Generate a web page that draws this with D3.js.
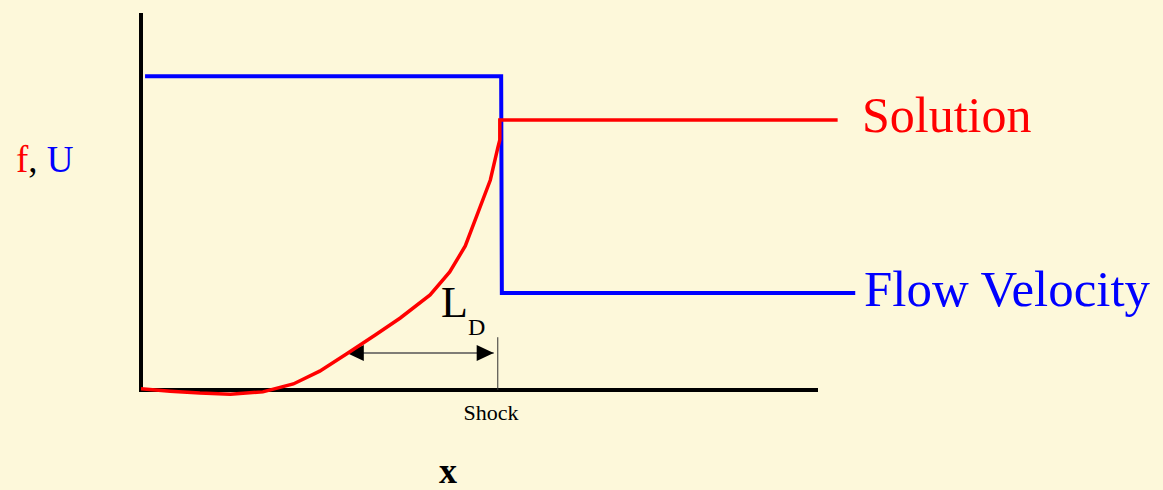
<!DOCTYPE html>
<html><head><meta charset="utf-8">
<script src="https://cdn.jsdelivr.net/npm/d3@7"></script>
<style>
html,body{margin:0;padding:0;background:#fdf8da;}
svg{display:block;font-family:"Liberation Serif","Times New Roman",serif;}
</style></head>
<body>
<svg id="c" width="1163" height="490"></svg>
<script>
// Data (arbitrary units: x position, f/U value)
const solutionX = [0, 4.3, 8.7, 13.2, 18.0, 22.5, 26.4, 30.4, 34.6, 38.3, 42.7, 45.6, 47.9, 49.8, 51.6, 52.7, 53.0, 53.0, 102.9];
const solutionY = [0.3, -0.3, -0.8, -1.1, -0.5, 1.6, 5.0, 9.6, 14.6, 19.1, 25.2, 31.3, 38.2, 47.2, 55.7, 64.2, 66.3, 71.6, 71.6];
const velocityX = [0.6, 53.2, 53.3, 105.5];
const velocityY = [83.2, 83.2, 25.7, 25.7];
const shockX = 52.7;
const diffusionStartX = 30.4;
const diffusionEndX = 52.1;
const arrowY = 9.8;
const shockTopY = 14;
const seriesLabels = ["Solution", "Flow Velocity"];

const svg = d3.select("#c");
const x = d3.scaleLinear().domain([0, 100]).range([141, 818]);
const y = d3.scaleLinear().domain([0, 100]).range([390, 13]);

// axes
svg.append("line").attr("x1", x(0)).attr("x2", x(0)).attr("y1", y(100)).attr("y2", y(0) + 2)
  .attr("stroke", "#000").attr("stroke-width", 4);
svg.append("line").attr("x1", x(0) - 2).attr("x2", x(100)).attr("y1", y(0)).attr("y2", y(0))
  .attr("stroke", "#000").attr("stroke-width", 4);

// shock line
svg.append("line").attr("x1", x(shockX)).attr("x2", x(shockX)).attr("y1", y(shockTopY)).attr("y2", y(0))
  .attr("stroke", "#333").attr("stroke-width", 1);

// diffusion arrow
const ay = y(arrowY);
svg.append("line").attr("x1", x(diffusionStartX)).attr("x2", x(diffusionEndX)).attr("y1", ay).attr("y2", ay)
  .attr("stroke", "#555").attr("stroke-width", 1.5);
const ah = 17, aw = 8;
svg.append("path").attr("d", `M${x(diffusionStartX)},${ay}L${x(diffusionStartX)+ah},${ay-aw}L${x(diffusionStartX)+ah},${ay+aw}Z`).attr("fill", "#000");
svg.append("path").attr("d", `M${x(diffusionEndX)},${ay}L${x(diffusionEndX)-ah},${ay-aw}L${x(diffusionEndX)-ah},${ay+aw}Z`).attr("fill", "#000");

const line = d3.line().x(d => x(d[0])).y(d => y(d[1]));
svg.append("path").datum(velocityX.map((v, i) => [v, velocityY[i]]))
  .attr("d", line).attr("fill", "none").attr("stroke", "#0000ff").attr("stroke-width", 4);
svg.append("path").datum(solutionX.map((v, i) => [v, solutionY[i]]))
  .attr("d", line).attr("fill", "none").attr("stroke", "#ff0000").attr("stroke-width", 3.5);

// labels
svg.append("text").attr("x", 862).attr("y", 132).attr("font-size", 50).attr("fill", "#ff0000").text(seriesLabels[0]);
svg.append("text").attr("x", 864).attr("y", 306).attr("font-size", 50).attr("fill", "#0000ff")
  .attr("textLength", 286).attr("lengthAdjust", "spacingAndGlyphs").text(seriesLabels[1]);

const yl = svg.append("text").attr("x", 16).attr("y", 172).attr("font-size", 37);
yl.append("tspan").attr("fill", "#ff0000").text("f");
yl.append("tspan").attr("fill", "#000").text(", ");
yl.append("tspan").attr("fill", "#0000ff").text("U");

const ld = svg.append("text").attr("x", 441).attr("y", 317).attr("font-size", 44).attr("fill", "#000");
ld.append("tspan").text("L");
ld.append("tspan").attr("font-size", 24).attr("dy", 18).text("D");

svg.append("text").attr("x", 491).attr("y", 420).attr("font-size", 22).attr("text-anchor", "middle").text("Shock");
svg.append("text").attr("x", 448).attr("y", 483).attr("font-size", 36).attr("font-weight", "bold").attr("text-anchor", "middle").text("x");
</script>
</body></html>
